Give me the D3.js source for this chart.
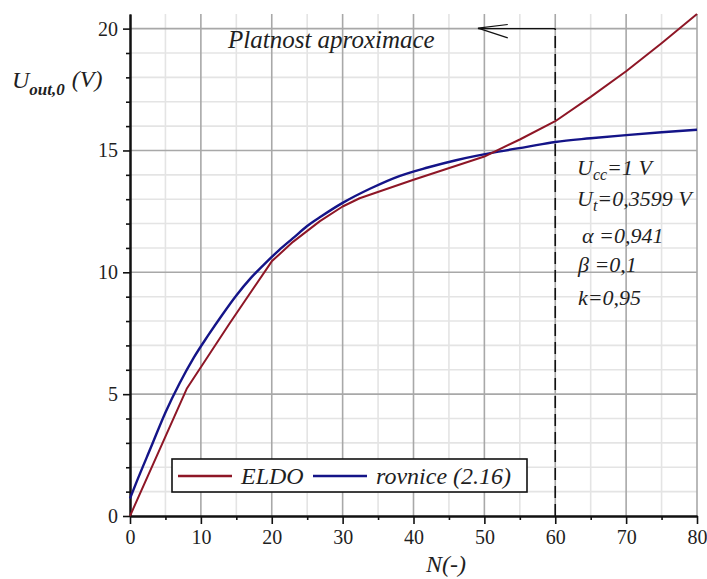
<!DOCTYPE html>
<html>
<head>
<meta charset="utf-8">
<script src="https://cdn.jsdelivr.net/npm/d3@7"></script>
<style>
  html, body { margin: 0; padding: 0; background: #fff; }
  svg { display: block; }
  text { font-family: "Liberation Serif", "Times New Roman", serif; fill: #1f1f1f; }
</style>
</head>
<body>
<svg id="chart" width="707" height="579"></svg>
<script>
// Simulated output (ELDO) vs. analytic formula (2.16)
const eldoN = [0, 8, 14, 20, 23, 26.8, 30, 32.4, 40, 50, 55, 60, 65, 70, 75, 80];
const eldoU = [0, 5.22, 7.88, 10.45, 11.25, 12.1, 12.7, 13.04, 13.8, 14.75, 15.45, 16.2, 17.2, 18.25, 19.4, 20.6];

const eqN = [0, 1, 3, 5, 7, 9, 11, 13, 15, 17, 19, 21, 23, 25, 27, 30, 34, 38, 42, 46, 52, 56, 60, 65, 70, 75, 80];
const eqU = [0.72, 1.45, 2.85, 4.25, 5.45, 6.5, 7.4, 8.25, 9.05, 9.75, 10.35, 10.9, 11.4, 11.9, 12.3, 12.85, 13.45, 13.95, 14.3, 14.6, 14.95, 15.15, 15.35, 15.5, 15.63, 15.75, 15.85];

const xTicks = [0, 10, 20, 30, 40, 50, 60, 70, 80];
const yTicks = [0, 5, 10, 15, 20];
const seriesNames = ["ELDO", "rovnice (2.16)"];
const validityLimit = 60;
const params = [
  { main: "U", sub: "cc", rest: "=1 V" },
  { main: "U", sub: "t", rest: "=0,3599 V" },
  { main: "α", sub: "", rest: " =0,941" },
  { main: "β", sub: "", rest: " =0,1" },
  { main: "k", sub: "", rest: "=0,95" }
];

const red = "#8e1626";
const blue = "#141488";

const svg = d3.select("#chart");
const x = d3.scaleLinear().domain([0, 80]).range([130, 697]);
const y = d3.scaleLinear().domain([0, 20.6]).range([516, 14]);

// grid
const grid = svg.append("g");
grid.selectAll(".vmin").data(d3.range(5, 81, 10)).join("line")
  .attr("x1", d => x(d)).attr("x2", d => x(d)).attr("y1", y(0)).attr("y2", y(20.6))
  .attr("stroke", "#e4e4e4").attr("stroke-width", 1.6);
grid.selectAll(".hmin").data(d3.range(1, 21).filter(d => d % 5 !== 0)).join("line")
  .attr("x1", x(0)).attr("x2", x(80)).attr("y1", d => y(d)).attr("y2", d => y(d))
  .attr("stroke", "#e4e4e4").attr("stroke-width", 1.6);
grid.selectAll(".vmaj").data(xTicks.slice(1)).join("line")
  .attr("x1", d => x(d)).attr("x2", d => x(d)).attr("y1", y(0)).attr("y2", y(20.6))
  .attr("stroke", "#a8a8a8").attr("stroke-width", 1.6);
grid.selectAll(".hmaj").data(yTicks.slice(1)).join("line")
  .attr("x1", x(0)).attr("x2", x(80)).attr("y1", d => y(d)).attr("y2", d => y(d))
  .attr("stroke", "#a8a8a8").attr("stroke-width", 1.6);

// axes
const xAxis = svg.append("g").attr("transform", `translate(0,${y(0)})`)
  .call(d3.axisBottom(x).tickValues(xTicks).tickSize(8).tickPadding(6).tickSizeOuter(0));
const xMinor = svg.append("g").attr("transform", `translate(0,${y(0)})`)
  .call(d3.axisBottom(x).tickValues(d3.range(5, 80, 10)).tickSize(4).tickFormat("").tickSizeOuter(0));
const yAxis = svg.append("g").attr("transform", `translate(${x(0)},0)`)
  .call(d3.axisLeft(y).tickValues(yTicks).tickSize(7).tickPadding(5).tickSizeOuter(0));
const yMinor = svg.append("g").attr("transform", `translate(${x(0)},0)`)
  .call(d3.axisLeft(y).tickValues(d3.range(1, 21).filter(d => d % 5 !== 0)).tickSize(4).tickFormat("").tickSizeOuter(0));
[xAxis, xMinor, yAxis, yMinor].forEach(g => {
  g.select(".domain").attr("stroke", "#111").attr("stroke-width", 2);
  g.selectAll(".tick line").attr("stroke", "#111").attr("stroke-width", 1.6);
  g.selectAll(".tick text").attr("font-family", "Liberation Serif, serif")
    .attr("font-size", 20).attr("fill", "#1f1f1f");
});

// curves
const line = d3.line().x(d => x(d[0])).y(d => y(d[1]));
const smooth = d3.line().x(d => x(d[0])).y(d => y(d[1])).curve(d3.curveMonotoneX);
svg.append("path").datum(eqN.map((n, i) => [n, eqU[i]]))
  .attr("d", smooth).attr("fill", "none").attr("stroke", blue).attr("stroke-width", 2.4);
svg.append("path").datum(eldoN.map((n, i) => [n, eldoU[i]]))
  .attr("d", line).attr("fill", "none").attr("stroke", red).attr("stroke-width", 2)
  .attr("stroke-linejoin", "round");

// validity limit marker
svg.append("line")
  .attr("x1", x(validityLimit)).attr("x2", x(validityLimit))
  .attr("y1", y(0)).attr("y2", y(20))
  .attr("stroke", "#111").attr("stroke-width", 1.6).attr("stroke-dasharray", "12,6");
svg.append("path")
  .attr("d", line([[validityLimit, 20], [49.1, 20]]))
  .attr("stroke", "#111").attr("stroke-width", 1.4).attr("fill", "none");
svg.append("path")
  .attr("d", line([[53.3, 20.17], [49.1, 20.02], [53.3, 19.62]]))
  .attr("stroke", "#111").attr("stroke-width", 1.2).attr("fill", "none");
svg.append("text").attr("x", 228).attr("y", 48)
  .attr("font-size", 25).attr("font-style", "italic").text("Platnost aproximace");

// parameter block
const pRows = [
  { x: 577, y: 175 }, { x: 577, y: 206 }, { x: 582, y: 243 }, { x: 578, y: 272 }, { x: 578, y: 305 }
];
params.forEach((p, i) => {
  const t = svg.append("text").attr("x", pRows[i].x).attr("y", pRows[i].y)
    .attr("font-size", 22).attr("font-style", "italic");
  t.append("tspan").text(p.main);
  if (p.sub) t.append("tspan").attr("dy", 5).attr("font-size", 16).text(p.sub);
  t.append("tspan").attr("dy", p.sub ? -5 : 0).text(p.rest);
});

// axis titles
const yl = svg.append("text").attr("x", 12).attr("y", 88).attr("font-style", "italic").attr("font-size", 24);
yl.append("tspan").text("U");
yl.append("tspan").attr("dy", 7).attr("font-size", 17).attr("font-weight", "bold").text("out,0");
yl.append("tspan").attr("dy", -8).attr("dx", 7).text("(V)");
svg.append("text").attr("x", 426).attr("y", 572).attr("font-size", 24)
  .attr("font-style", "italic").text("N(-)");

// legend
const lg = svg.append("g");
lg.append("rect").attr("x", 172).attr("y", 459).attr("width", 355).attr("height", 33)
  .attr("fill", "#fff").attr("stroke", "#111").attr("stroke-width", 1.6);
const items = [
  { name: seriesNames[0], color: red, x0: 178 },
  { name: seriesNames[1], color: blue, x0: 313 }
];
items.forEach(it => {
  lg.append("line").attr("x1", it.x0).attr("x2", it.x0 + 54).attr("y1", 476).attr("y2", 476)
    .attr("stroke", it.color).attr("stroke-width", 2.5);
  lg.append("text").attr("x", it.x0 + 63).attr("y", 484).attr("font-size", 24)
    .attr("font-style", "italic").text(it.name);
});
</script>
</body>
</html>
